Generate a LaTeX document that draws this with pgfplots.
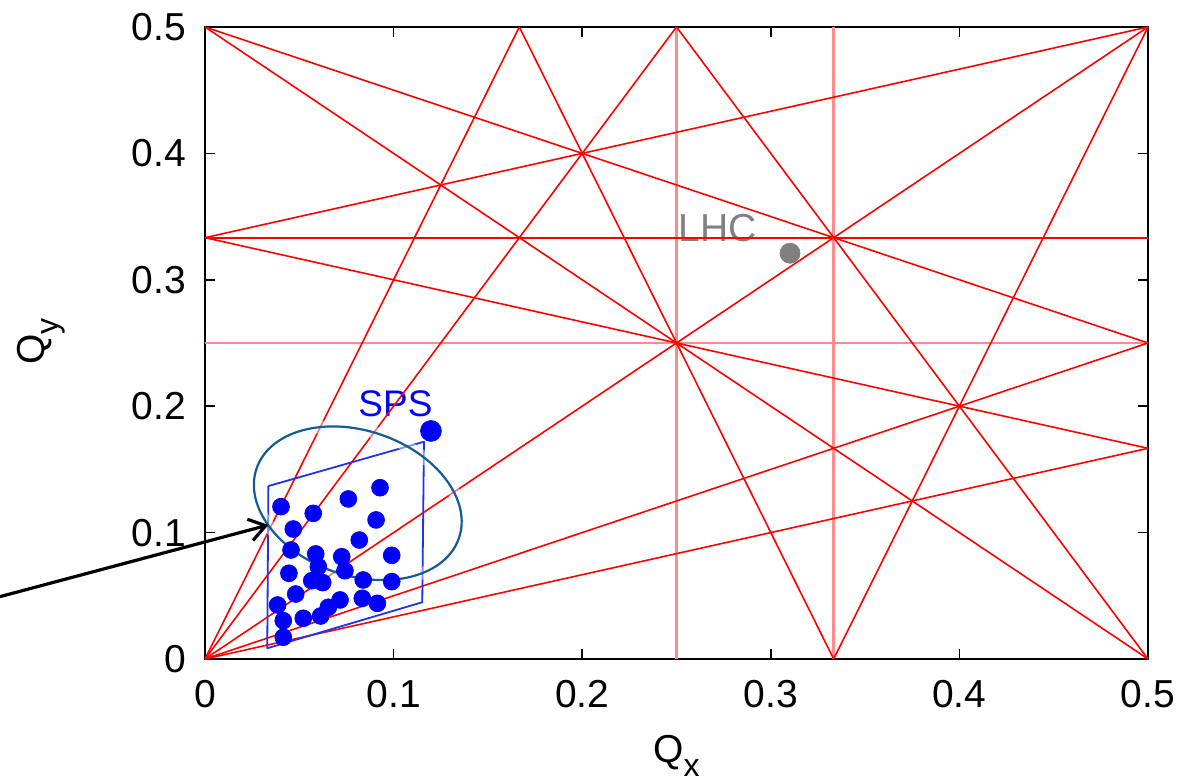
\documentclass[border=0pt]{standalone}
\usepackage{fontspec}
\setmainfont{Liberation Sans}
\usepackage{pgfplots}
\pgfplotsset{compat=1.18}
\usetikzlibrary{arrows.meta}

\definecolor{resred}{RGB}{255,0,0}
\definecolor{respink}{RGB}{255,140,140}
\definecolor{dotblue}{RGB}{0,0,255}
\definecolor{boxblue}{RGB}{30,50,240}
\definecolor{ellblue}{RGB}{20,90,150}
\definecolor{lhcgray}{RGB}{128,128,128}

\newcommand{\labelfont}{\fontsize{19.5}{23}\selectfont}
\newcommand{\tunelabel}[1]{Q\raisebox{-7pt}{\fontsize{16}{16}\selectfont #1}}

\begin{document}
\begin{tikzpicture}
\begin{axis}[
  scale only axis, width=471.5pt, height=316pt,
  xmin=0, xmax=0.5, ymin=0, ymax=0.5,
  xtick={0,0.1,0.2,0.3,0.4,0.5},
  ytick={0,0.1,0.2,0.3,0.4,0.5},
  tick pos=both, tick align=inside, major tick length=5pt,
  major tick style={black, line width=0.8pt},
  axis line style={black, line width=1pt},
  tick label style={font=\labelfont},
  /pgf/number format/assume math mode=true,
  xticklabel style={yshift=-7pt},
  yticklabel style={xshift=-6pt},
  xlabel={\tunelabel{x}}, ylabel={\tunelabel{y}},
  label style={font=\labelfont},
  x label style={at={(axis description cs:0.500,-0.1640)}, anchor=base},
  y label style={at={(axis description cs:-0.1707,0.5024)}, anchor=base},
  clip=false,
]

% labels of the two machines (below the resonance lines)
\node[dotblue, anchor=base, font=\fontsize{18.5}{22}\selectfont] at (axis cs:0.1010,0.1917) {SPS};
\node[lhcgray, anchor=base, font=\labelfont] at (axis cs:0.2717,0.3301) {LHC};

% resonance lines, weaker ones first
\addplot[draw=respink, line width=1.3pt] coordinates {(0.25,0) (0.25,0.5)};
\addplot[draw=respink, line width=1.3pt] coordinates {(0.33333,0) (0.33333,0.5)};
\addplot[draw=respink, line width=1.3pt] coordinates {(0,0.25) (0.5,0.25)};

\addplot[draw=resred, line width=0.9pt] coordinates {(0,0.33333) (0.25,0.33333) (0.5,0.33333)};
\addplot[draw=resred, line width=0.8pt] coordinates {(0,0) (0.5,0.5)};
\addplot[draw=resred, line width=0.8pt] coordinates {(0,0) (0.25,0.5)};
\addplot[draw=resred, line width=0.8pt] coordinates {(0,0) (0.5,0.25)};
\addplot[draw=resred, line width=0.8pt] coordinates {(0,0) (0.16667,0.5)};
\addplot[draw=resred, line width=0.8pt] coordinates {(0,0) (0.5,0.16667)};
\addplot[draw=resred, line width=0.8pt] coordinates {(0,0.5) (0.5,0)};
\addplot[draw=resred, line width=0.8pt] coordinates {(0,0.5) (0.5,0.25)};
\addplot[draw=resred, line width=0.8pt] coordinates {(0.25,0.5) (0.5,0)};
\addplot[draw=resred, line width=0.8pt] coordinates {(0.16667,0.5) (0.33333,0)};
\addplot[draw=resred, line width=0.8pt] coordinates {(0,0.33333) (0.5,0.16667)};
\addplot[draw=resred, line width=0.8pt] coordinates {(0.33333,0) (0.5,0.5)};
\addplot[draw=resred, line width=0.8pt] coordinates {(0,0.33333) (0.5,0.5)};

% working points of the scan
\addplot[only marks, mark=*, mark size=4.2pt, mark options={draw=dotblue, fill=dotblue}] coordinates {
  (0.0403,0.1205) (0.0574,0.1152) (0.0760,0.1266) (0.0928,0.1355)
  (0.0468,0.1028) (0.0907,0.1100) (0.0818,0.0941)
  (0.0456,0.0862) (0.0587,0.0831) (0.0725,0.0809) (0.0990,0.0820)
  (0.0445,0.0678) (0.0601,0.0730) (0.0742,0.0698)
  (0.0566,0.0619) (0.0624,0.0604) (0.0839,0.0625) (0.0990,0.0612)
  (0.0481,0.0514) (0.0385,0.0427) (0.0716,0.0467) (0.0654,0.0409)
  (0.0834,0.0480) (0.0914,0.0440)
  (0.0415,0.0303) (0.0521,0.0322) (0.0613,0.0340) (0.0415,0.0172)
};

% tune area
\addplot[draw=boxblue, line width=0.9pt, line join=round] coordinates {
  (0.0336,0.1368) (0.1161,0.1719) (0.1152,0.0449) (0.0330,0.0085) (0.0336,0.1368)
};

% machine tunes
\addplot[only marks, mark=*, mark size=5.2pt, mark options={draw=dotblue, fill=dotblue}] coordinates {(0.1198,0.1804)};
\addplot[only marks, mark=*, mark size=5pt, mark options={draw=lhcgray, fill=lhcgray}] coordinates {(0.3102,0.3210)};

% highlighted region
\coordinate (EC) at (axis cs:0.0810,0.1232);
\draw[white, opacity=0.45, line width=6pt, rotate around={-19:(EC)}] (EC) ellipse [x radius=53.5pt, y radius=36.2pt];
\draw[ellblue, line width=1.1pt, rotate around={-19:(EC)}] (EC) ellipse [x radius=53.5pt, y radius=36.2pt];

% pointer
\addplot[black, line width=1.6pt, -{Straight Barb[length=8pt, width=11pt]}] coordinates {(-0.1193,0.0451) (0.0336,0.1060)};

\coordinate (BL) at (axis cs:-0.10870,-0.09731);
\coordinate (TR) at (axis cs:0.52015,0.52136);
\end{axis}
\pgfresetboundingbox
\useasboundingbox (BL) rectangle (TR);
\end{tikzpicture}
\end{document}
